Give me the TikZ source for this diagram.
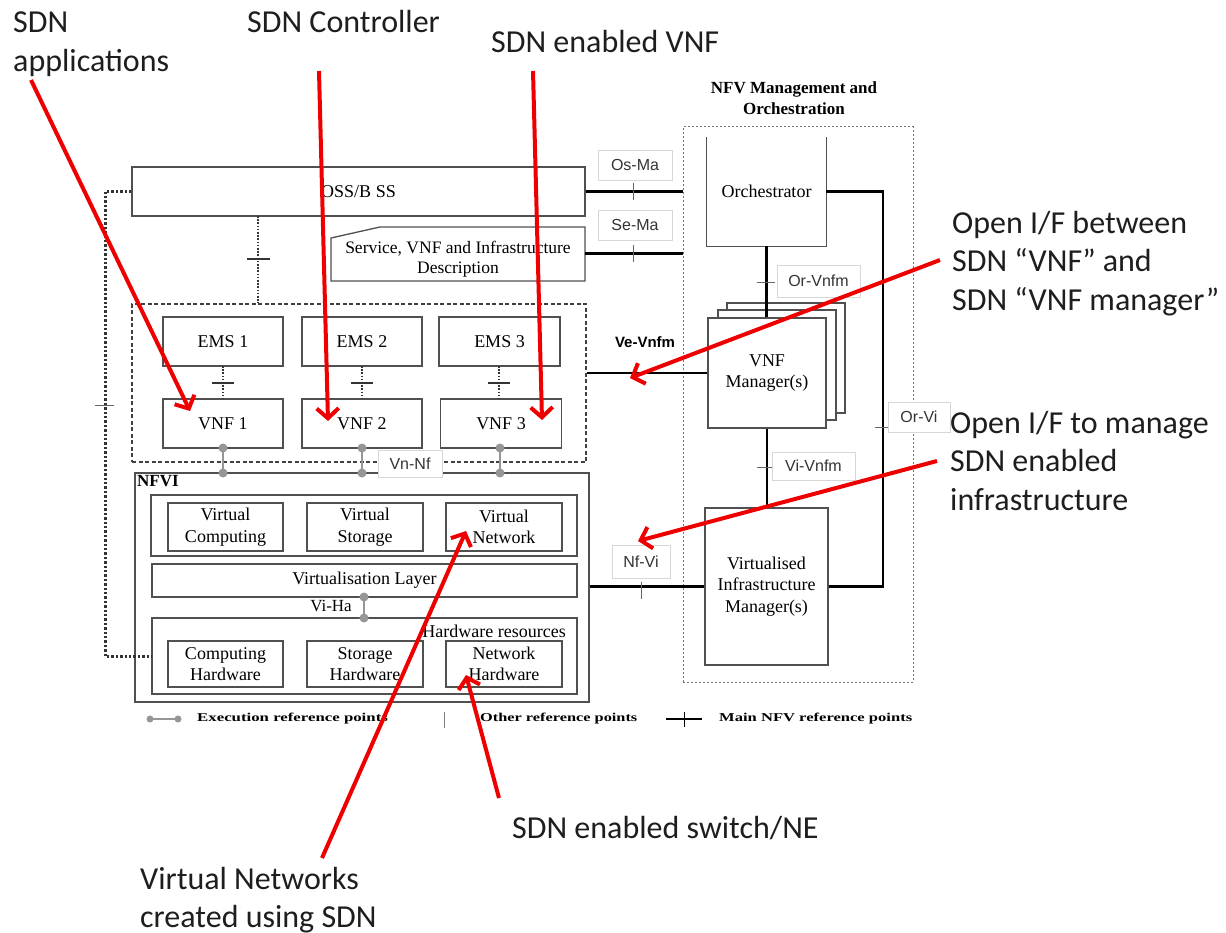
\documentclass[tikz,border=0pt]{standalone}
\usepackage{fontspec}
\usepackage{graphicx}
\setmainfont{Liberation Serif}
\newfontfamily\calib{Carlito}
\newfontfamily\sansf{Liberation Sans}
\usetikzlibrary{arrows.meta,calc}
\definecolor{boxc}{RGB}{80,80,80}
\definecolor{lblc}{RGB}{215,215,215}
\definecolor{execc}{RGB}{150,150,150}
\definecolor{sdnred}{RGB}{238,0,0}
\definecolor{annc}{RGB}{30,30,30}
\begin{document}
\begin{tikzpicture}[x=1pt,y=-1pt,
  box/.style={draw=boxc, line width=1.3pt, fill=white, inner sep=0pt, align=center, font=\fontsize{18}{21.5}\selectfont},
  boxline/.style={draw=boxc, line width=1.3pt},
  txt/.style={inner sep=0pt, align=center, font=\fontsize{18}{21}\selectfont},
  lbl/.style={draw=lblc, fill=white, line width=0.6pt, inner sep=0pt, font=\sansf\fontsize{16}{18}\selectfont, text=black!80},
  mainline/.style={line width=2.6pt, black},
  tickthin/.style={line width=1pt, black!60},
  tickthick/.style={line width=2.2pt, black!80},
  execline/.style={line width=2.6pt, execc},
  execdot/.style={fill=execc, draw=none},
  dotline/.style={line width=1.8pt, black!80, dash pattern=on 1.6pt off 1.6pt},
  leftdot/.style={line width=3pt, black!80, dash pattern=on 2.4pt off 2pt},
  manobox/.style={draw=black!55, line width=1pt, dash pattern=on 2pt off 2pt},
  vnfdash/.style={draw=black!75, line width=1.3pt, dash pattern=on 4pt off 2.5pt},
  reda/.style={draw=sdnred, line width=4pt, -{Straight Barb[length=10pt,width=22pt]}},
  ann/.style={inner sep=0pt, anchor=base west, text=annc, font=\calib\fontsize{32}{39}\selectfont},
  legt/.style={inner sep=0pt, anchor=west, font=\bfseries\fontsize{12}{14}\selectfont}
]
\path[use as bounding box] (0,0) rectangle (1226,933);
\fill[white] (0,0) rectangle (1226,933);

% ---------- MANO ----------
\node[manobox, minimum width=230pt, minimum height=555pt, inner sep=0pt] (mano) at (798,404.5) {};
\node[txt, font=\bfseries\fontsize{17}{21}\selectfont] (manot) at (794,98.5) {NFV Management and\\Orchestration};

% Orchestrator (open top)
\node[txt, minimum width=119pt, minimum height=109pt] (orch) at (766.5,191.5) {Orchestrator};
\draw[boxline] (orch.north west) -- (orch.south west) -- (orch.south east) -- (orch.north east);

% VNF manager stack
\node[box, minimum width=118pt, minimum height=110pt] (vnfmc) at (786,358) {};
\node[box, minimum width=118pt, minimum height=110pt] (vnfmb) at (777,365) {};
\node[box, minimum width=118pt, minimum height=110pt] (vnfm) at (767,373) {VNF\\Manager(s)};

% VIM
\node[box, minimum width=123pt, minimum height=157pt] (vim) at (766.5,586.5) {Virtualised\\Infrastructure\\Manager(s)};

% ---------- OSS ----------
\node[box, minimum width=453pt, minimum height=49pt] (oss) at (358.5,191.5) {OSS/B SS};
\draw[boxline, fill=white] (331,238) -- (380,227) -- (585,227) -- (585,281) -- (331,281) -- cycle;
\node[txt, font=\fontsize{17.5}{20}\selectfont] (desc) at (458,259) {Service, VNF and Infrastructure\\Description};
\coordinate (descr) at (585,253.3);

% ---------- VNF area ----------
\node[vnfdash, minimum width=454pt, minimum height=158pt, inner sep=0pt] (vnfbox) at (359,383) {};
\node[box, minimum width=120pt, minimum height=49pt] (ems1) at (223,341.5) {EMS 1};
\node[box, minimum width=120pt, minimum height=49pt] (ems2) at (362,341.5) {EMS 2};
\node[box, minimum width=121pt, minimum height=49pt] (ems3) at (499.5,341.5) {EMS 3};
\node[box, minimum width=120pt, minimum height=49pt] (vnf1) at (223,423.5) {VNF 1};
\node[box, minimum width=120pt, minimum height=49pt] (vnf2) at (362,423.5) {VNF 2};
\node[box, minimum width=121pt, minimum height=49pt] (vnf3) at (501,423.5) {VNF 3};

% ---------- NFVI ----------
\node[box, minimum width=454pt, minimum height=229pt] (nfvi) at (362,587.5) {};
\node[txt, anchor=north west, font=\bfseries\fontsize{17}{20}\selectfont] (nfvit) at (137,475) {NFVI};
\node[box, minimum width=426pt, minimum height=61pt] (vrow) at (364,525.5) {};
\node[box, minimum width=115pt, minimum height=48pt] (vc) at (225.5,527) {Virtual\\Computing};
\node[box, minimum width=116pt, minimum height=48pt] (vs) at (365,527) {Virtual\\Storage};
\node[box, minimum width=116pt, minimum height=48pt] (vn) at (504,527) {Virtual\\Network};
\node[box, minimum width=425pt, minimum height=33pt] (vlayer) at (364.5,580.5) {Virtualisation Layer};
\node[box, minimum width=425pt, minimum height=76pt] (hw) at (364.5,656) {};
\node[txt, anchor=east] (hwt) at (566,631) {Hardware resources};
\node[box, minimum width=115pt, minimum height=46pt] (ch) at (225.5,664) {Computing\\Hardware};
\node[box, minimum width=116pt, minimum height=46pt] (sh) at (365,664) {Storage\\Hardware};
\node[box, minimum width=116pt, minimum height=46pt] (nh) at (504,664) {Network\\Hardware};

% ---------- connectors ----------
% Os-Ma
\draw[mainline] (oss.east) -- (oss.east -| mano.west);
\draw[tickthin] (633,183) -- (633,200);
\node[lbl, minimum width=74pt, minimum height=30pt] (osma) at (635,165) {Os-Ma};
% Se-Ma
\draw[mainline] (descr) -- (descr -| mano.west);
\draw[tickthin] (633,245) -- (633,262);
\node[lbl, minimum width=74pt, minimum height=30pt] (sema) at (635,225) {Se-Ma};
% Or-Vnfm
\draw[mainline] (orch.south) -- (orch.south |- vnfm.north);
\draw[tickthin] (757,283) -- (775,283);
\node[lbl, minimum width=83pt, minimum height=32pt] (orvnfm) at (818.5,281) {Or-Vnfm};
% Ve-Vnfm
\draw[mainline] (vnfm.west) -- (vnfm.west -| vnfbox.east);
\draw[tickthin] (635,364) -- (635,380);
\node[inner sep=0pt, font=\sansf\bfseries\fontsize{15}{17}\selectfont] (vevnfm) at (645,342) {Ve-Vnfm};
% Vi-Vnfm
\draw[mainline] (vnfm.south) -- (vnfm.south |- vim.north);
\draw[tickthin] (757,467) -- (775,467);
\node[lbl, minimum width=83pt, minimum height=28pt] (vivnfm) at (813.5,466) {Vi-Vnfm};
% Or-Vi
\coordinate (orvi) at (883,427);
\draw[mainline] (orch.east) -- (orch.east -| orvi) |- (vim.east);
\draw[tickthin] (875,427) -- (892,427);
\node[lbl, minimum width=62pt, minimum height=30pt] (orvit) at (919,417) {Or-Vi};
% Nf-Vi
\draw[mainline] (vim.west) -- (vim.west -| nfvi.east);
\draw[tickthin] (641,582) -- (641,599);
\node[lbl, minimum width=58pt, minimum height=33pt] (nfvit2) at (641,561.5) {Nf-Vi};

% OSS to VNF area
\coordinate (ossd) at (258,216);
\draw[dotline] (ossd) -- (ossd |- vnfbox.north);
\draw[tickthick] (247,259) -- (270,259);
% EMS to VNF
\foreach \e/\v/\x in {ems1/vnf1/223, ems2/vnf2/362, ems3/vnf3/499}{
  \draw[dotline] (\x,366) -- (\x,399);
  \draw[tickthick] (\x-11,383) -- (\x+11,383);
}
% left dotted loop
\coordinate (leftc) at (105,400);
\draw[leftdot] (oss.west) -| (leftc) |- (hw.west);
\draw[tickthin] (95,405) -- (114,405);

% execution reference points
\foreach \v/\x in {vnf1/223, vnf2/362, vnf3/500}{
  \draw[execline] (\x,448) -- (\x,473);
  \fill[execdot] (\x,448) circle (4.5pt) (\x,473) circle (4.5pt);
}
\node[lbl, minimum width=64pt, minimum height=27pt] (vnnf) at (410,463.5) {Vn-Nf};
\draw[execline] (364,597) -- (364,618);
\fill[execdot] (364,597) circle (4.5pt) (364,618) circle (4.5pt);
\node[txt, font=\fontsize{17}{19}\selectfont] (viha) at (331,606) {Vi-Ha};

% ---------- legend ----------
\draw[execline, line width=2pt] (150,719) -- (178,719);
\fill[execdot] (150,719) circle (3.5pt) (178,719) circle (3.5pt);
\node[legt] (lg1) at (197,719) {\scalebox{1.4}[1]{Execution reference points}};
\draw[line width=1pt, black!50] (444,712) -- (444,728);
\node[legt] (lg2) at (480,719) {\scalebox{1.36}[1]{Other reference points}};
\draw[line width=2.6pt, black] (666,719) -- (702,719);
\draw[line width=1pt, black] (684,712) -- (684,727);
\node[legt] (lg3) at (719,719) {\scalebox{1.38}[1]{Main NFV reference points}};

% ---------- SDN annotations ----------
\node[ann] (a1a) at (13,32.7) {SDN};
\node[ann] (a1b) at (13,71.7) {applications};
\node[ann] (a2) at (247,33) {SDN Controller};
\node[ann] (a3) at (491,53) {SDN enabled VNF};
\node[ann] (a4a) at (952,233.3) {Open I/F between};
\node[ann] (a4b) at (952,271.7) {SDN “VNF” and};
\node[ann] (a4c) at (952,310) {SDN “VNF manager”};
\node[ann] (a5a) at (950,433.3) {Open I/F to manage};
\node[ann] (a5b) at (950,471.7) {SDN enabled};
\node[ann] (a5c) at (950,510) {infrastructure};
\node[ann] (a6) at (512,838) {SDN enabled switch/NE};
\node[ann] (a7a) at (140,889) {Virtual Networks};
\node[ann] (a7b) at (140,927) {created using SDN};

\coordinate (s1) at (31,80);   \coordinate (t1) at (190,411);
\coordinate (s2) at (319,71);  \coordinate (t2) at (328,421);
\coordinate (s3) at (533,71);  \coordinate (t3) at (542,420);
\coordinate (s4) at (940,260); \coordinate (t4) at (630,378);
\coordinate (s5) at (937,461); \coordinate (t5) at (638,541);
\coordinate (s6) at (322,858); \coordinate (t6) at (466,531);
\coordinate (s7) at (499,798); \coordinate (t7) at (466,675);
\foreach \i in {1,...,7}{ \draw[reda] (s\i) -- (t\i); }
\end{tikzpicture}
\end{document}
